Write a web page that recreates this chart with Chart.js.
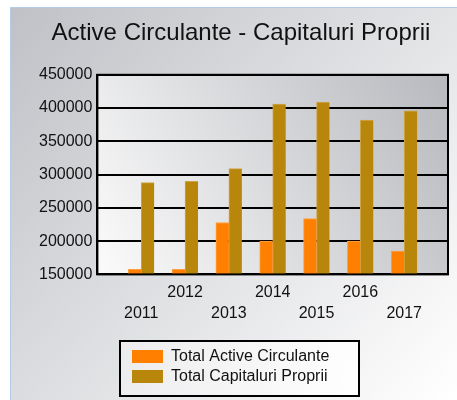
<!DOCTYPE html>
<html>
<head>
<meta charset="utf-8">
<script src="https://cdn.jsdelivr.net/npm/chart.js@4.4.1/dist/chart.umd.min.js"></script>
<style>
  html, body { margin: 0; padding: 0; background: #fff; }
  #wrap { width: 457px; height: 400px; }
</style>
</head>
<body>
<div id="wrap"><canvas id="chart" width="457" height="400"></canvas></div>
<script>
// ani din grafic
var years = ["2011", "2012", "2013", "2014", "2015", "2016", "2017"];
var activeCirculante = [157500, 157500, 228000, 200000, 234000, 200000, 185000];
var capitaluriProprii = [288000, 290000, 309000, 406000, 409000, 382000, 396000];
var yTicks = [150000, 200000, 250000, 300000, 350000, 400000, 450000];

var FONT = "'Liberation Sans', Arial, sans-serif";

// o categorie goala la fiecare capat, ca barele sa stea pe linii
var labels = [""].concat(years, [""]);
function pad(arr) { return [null].concat(arr, [null]); }

// fundalul panoului si al zonei de desen
var backgroundPlugin = {
	id: "background",
	beforeDraw: function (chart) {
		var c = chart.ctx;
		var w = chart.width, h = chart.height;
		c.save();
		var g = c.createLinearGradient(10, 7, w, h);
		g.addColorStop(0, "#bfc1c6");
		g.addColorStop(1, "#ffffff");
		c.fillStyle = g;
		c.fillRect(10.5, 7.5, w - 10, h - 7);
		c.strokeStyle = "#b3cbe6";
		c.lineWidth = 1;
		c.beginPath();
		c.moveTo(10.5, h);
		c.lineTo(10.5, 7.5);
		c.lineTo(w, 7.5);
		c.stroke();

		var a = chart.chartArea;
		var g2 = c.createLinearGradient(a.left, a.bottom, a.right, a.top);
		g2.addColorStop(0, "#fbfbfb");
		g2.addColorStop(1, "#b7b9be");
		c.fillStyle = g2;
		c.fillRect(a.left, a.top, a.right - a.left, a.bottom - a.top);
		c.restore();
	},
	afterDatasetsDraw: function (chart) {
		var c = chart.ctx, a = chart.chartArea;
		c.save();
		c.strokeStyle = "#000";
		c.lineWidth = 2;
		c.strokeRect(a.left, a.top, a.right - a.left, a.bottom - a.top);
		c.restore();
	}
};

// legenda in caseta, pe verticala
var legendBoxPlugin = {
	id: "legendBox",
	afterDraw: function (chart) {
		var c = chart.ctx;
		var x = 120, y = 341, w = 239, h = 55;
		c.save();
		var g = c.createLinearGradient(x, y, x + w, y + h);
		g.addColorStop(0, "#ececee");
		g.addColorStop(1, "#ffffff");
		c.fillStyle = g;
		c.fillRect(x, y, w, h);
		c.strokeStyle = "#000";
		c.lineWidth = 2;
		c.strokeRect(x, y, w, h);
		c.font = "16px " + FONT;
		c.textBaseline = "middle";
		chart.data.datasets.forEach(function (ds, i) {
			var ry = 350 + i * 20;
			c.fillStyle = ds.backgroundColor;
			c.fillRect(132, ry, 31, 13);
			c.fillStyle = "#111";
			c.fillText(ds.label, 171, ry + 7);
		});
		c.restore();
	}
};

var ctx = document.getElementById("chart").getContext("2d");
var chart = new Chart(ctx, {
	type: "bar",
	data: {
		labels: labels,
		datasets: [
			{
				label: "Total Active Circulante",
				data: pad(activeCirculante),
				backgroundColor: "#ff8000",
				borderColor: "#ffa040",
				borderWidth: { top: 1, left: 1, right: 0, bottom: 0 },
				barThickness: 13,
			},
			{
				label: "Total Capitaluri Proprii",
				data: pad(capitaluriProprii),
				backgroundColor: "#b8860b",
				borderColor: "#cfa447",
				borderWidth: { top: 1, left: 1, right: 0, bottom: 0 },
				barThickness: 13,
			},
		],
	},
	options: {
		responsive: false,
		animation: false,
		layout: {
			padding: { left: 34, right: 9, top: 8, bottom: 76 },
		},
		plugins: {
			legend: { display: false },
			tooltip: { enabled: false },
			title: {
				display: true,
				text: "Active Circulante - Capitaluri Proprii",
				color: "#111",
				font: { family: FONT, size: 24, weight: "normal" },
				padding: { top: 11, bottom: 27 },
			},
		},
		scales: {
			x: {
				offset: false,
				grid: { display: false },
				border: { color: "#000", width: 2 },
				ticks: {
					autoSkip: false,
					maxRotation: 0,
					minRotation: 0,
					padding: 0,
					color: "#111",
					font: { family: FONT, size: 16, lineHeight: 1.3 },
					callback: function (value, index) {
						var lab = labels[index];
						if (!lab) return "";
						return (index % 2 === 1) ? ["", lab] : [lab, ""];
					},
				},
			},
			y: {
				min: yTicks[0],
				max: yTicks[yTicks.length - 1],
				afterBuildTicks: function (axis) {
					axis.ticks = yTicks.map(function (v) { return { value: v }; });
				},
				grid: { color: "#000", lineWidth: 2, drawTicks: false },
				border: { color: "#000", width: 2 },
				ticks: {
					padding: 5,
					color: "#111",
					font: { family: FONT, size: 16 },
					callback: function (value) { return String(value); },
				},
			},
		},
	},
	plugins: [backgroundPlugin, legendBoxPlugin],
});
</script>
</body>
</html>
